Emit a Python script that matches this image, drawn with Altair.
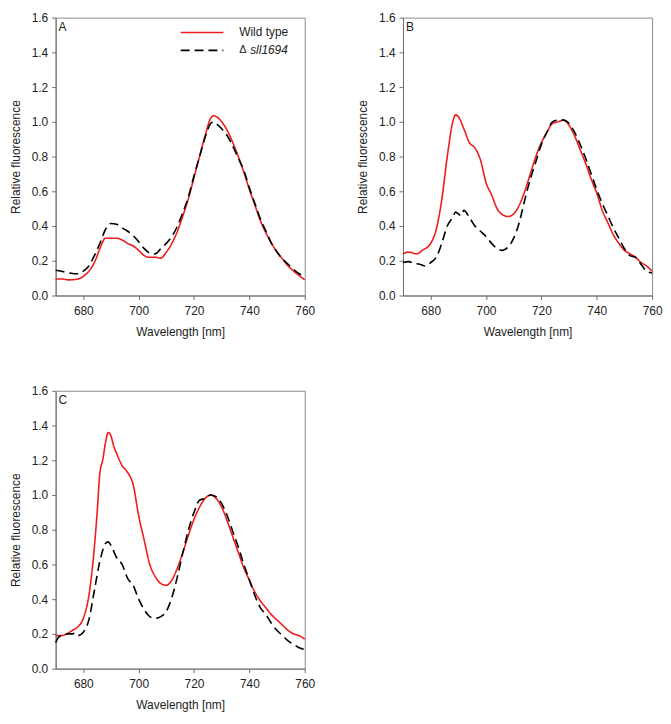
import altair as alt
import pandas as pd

# ---------------- data ----------------
# Panel A
A_wt_x = [670, 672, 675, 678, 680, 682, 684, 686, 688, 690, 692, 694, 696, 698, 700, 702, 704, 706, 708,
          710, 712, 714, 716, 718, 720, 722, 724, 726, 727, 728, 730, 732, 734, 736, 738, 740, 742, 744,
          746, 748, 750, 752, 754, 756, 758, 760]
A_wt_y = [0.095, 0.095, 0.09, 0.095, 0.11, 0.14, 0.19, 0.27, 0.33, 0.33, 0.33, 0.32, 0.30, 0.285, 0.26,
          0.23, 0.22, 0.22, 0.215, 0.25, 0.30, 0.37, 0.46, 0.56, 0.68, 0.80, 0.92, 1.02, 1.035, 1.03, 1.00,
          0.95, 0.88, 0.80, 0.71, 0.61, 0.52, 0.43, 0.36, 0.30, 0.25, 0.21, 0.17, 0.14, 0.115, 0.09]
A_ko_x = [670, 672, 675, 678, 680, 682, 684, 686, 688, 690, 692, 694, 696, 698, 700, 702, 704, 706, 708,
          710, 712, 714, 716, 718, 720, 722, 724, 726, 727, 728, 730, 732, 734, 736, 738, 740, 742, 744,
          746, 748, 750, 752, 754, 756, 758, 760]
A_ko_y = [0.145, 0.14, 0.13, 0.125, 0.14, 0.17, 0.23, 0.30, 0.38, 0.415, 0.41, 0.39, 0.37, 0.345, 0.31,
          0.27, 0.245, 0.24, 0.27, 0.30, 0.34, 0.40, 0.48, 0.57, 0.69, 0.80, 0.91, 0.99, 1.00, 0.99, 0.96,
          0.92, 0.86, 0.79, 0.72, 0.62, 0.53, 0.44, 0.37, 0.30, 0.25, 0.21, 0.18, 0.15, 0.125, 0.11]

# Panel B
B_wt_x = [670, 672, 675, 677, 680, 682, 684, 686, 688, 689, 690, 692, 694, 696, 698, 700, 702, 704, 706,
          708, 710, 712, 714, 716, 718, 720, 722, 724, 726, 728, 730, 732, 734, 736, 738, 740, 742, 744,
          746, 748, 750, 752, 754, 756, 758, 760]
B_wt_y = [0.24, 0.25, 0.24, 0.26, 0.30, 0.38, 0.55, 0.80, 1.00, 1.04, 1.03, 0.96, 0.88, 0.85, 0.78, 0.65,
          0.58, 0.50, 0.465, 0.455, 0.47, 0.52, 0.60, 0.70, 0.80, 0.88, 0.94, 0.99, 1.00, 1.01, 0.98, 0.92,
          0.84, 0.76, 0.67, 0.59, 0.49, 0.42, 0.35, 0.30, 0.26, 0.24, 0.22, 0.19, 0.17, 0.14]
B_ko_x = [670, 672, 674, 676, 678, 680, 682, 684, 686, 688, 689, 690, 691, 692, 694, 696, 698, 700, 702,
          704, 706, 708, 710, 712, 714, 716, 718, 720, 722, 724, 726, 728, 730, 732, 734, 736, 738, 740,
          742, 744, 746, 748, 750, 752, 754, 756, 758, 760]
B_ko_y = [0.19, 0.195, 0.185, 0.18, 0.17, 0.19, 0.22, 0.30, 0.40, 0.45, 0.48, 0.47, 0.46, 0.49, 0.45, 0.40,
          0.37, 0.34, 0.30, 0.27, 0.26, 0.28, 0.33, 0.42, 0.55, 0.67, 0.77, 0.87, 0.94, 1.00, 1.01, 1.01,
          0.99, 0.94, 0.87, 0.79, 0.70, 0.61, 0.53, 0.46, 0.39, 0.33, 0.27, 0.23, 0.22, 0.18, 0.14, 0.13]

# Panel C
C_wt_x = [670, 672, 674, 676, 678, 680, 682, 684, 685, 686, 687, 688, 689, 690, 691, 692, 694, 696, 698,
          700, 702, 704, 706, 708, 710, 712, 714, 716, 718, 720, 722, 724, 726, 728, 730, 732, 734, 736,
          738, 740, 742, 744, 746, 748, 750, 752, 754, 756, 758, 760]
C_wt_y = [0.19, 0.19, 0.20, 0.22, 0.24, 0.29, 0.42, 0.70, 0.90, 1.13, 1.20, 1.30, 1.36, 1.34, 1.28, 1.24,
          1.17, 1.13, 1.06, 0.88, 0.74, 0.60, 0.53, 0.49, 0.48, 0.51, 0.58, 0.67, 0.77, 0.86, 0.93, 0.98,
          1.00, 0.98, 0.93, 0.85, 0.76, 0.67, 0.58, 0.51, 0.44, 0.39, 0.35, 0.31, 0.28, 0.25, 0.22, 0.20,
          0.19, 0.17]
C_ko_x = [670, 671, 672, 674, 676, 677, 678, 680, 682, 684, 686, 688, 689, 690, 692, 694, 696, 698, 700,
          702, 704, 706, 708, 710, 712, 714, 716, 718, 720, 722, 724, 726, 728, 730, 732, 734, 736, 738,
          740, 742, 744, 746, 748, 750, 752, 754, 756, 758, 760]
C_ko_y = [0.15, 0.18, 0.19, 0.20, 0.20, 0.205, 0.19, 0.21, 0.28, 0.45, 0.62, 0.72, 0.73, 0.71, 0.64, 0.60,
          0.52, 0.48, 0.40, 0.34, 0.30, 0.29, 0.30, 0.33, 0.41, 0.53, 0.67, 0.80, 0.90, 0.97, 0.98, 1.00,
          0.99, 0.95, 0.88, 0.79, 0.70, 0.60, 0.51, 0.42, 0.35, 0.31, 0.26, 0.22, 0.19, 0.16, 0.14, 0.12,
          0.11]

series_names = ["Wild type", "\u0394 sll1694"]
x_ticks = [680, 700, 720, 740, 760]
y_ticks = [0.0, 0.2, 0.4, 0.6, 0.8, 1.0, 1.2, 1.4, 1.6]

RED = "#ee1c1c"
FONT = "Liberation Sans"
W, H = 251, 280


def panel(letter, wt_x, wt_y, ko_x, ko_y, legend=False):
    df = pd.concat([
        pd.DataFrame({"wavelength": wt_x, "value": wt_y, "series": series_names[0]}),
        pd.DataFrame({"wavelength": ko_x, "value": ko_y, "series": series_names[1]}),
    ])
    x = alt.X("wavelength:Q",
              scale=alt.Scale(domain=[670, 760], nice=False, zero=False),
              axis=alt.Axis(values=x_ticks, title="Wavelength [nm]", labelFlush=False))
    y = alt.Y("value:Q",
              scale=alt.Scale(domain=[0, 1.6], nice=False),
              axis=alt.Axis(values=y_ticks, format=".1f", title="Relative fluorescence"))
    lines = alt.Chart(df).mark_line(strokeWidth=1.6, interpolate="monotone").encode(
        x=x, y=y,
        color=alt.Color("series:N", scale=alt.Scale(domain=series_names, range=[RED, "black"]), legend=None),
        strokeDash=alt.StrokeDash("series:N", scale=alt.Scale(domain=series_names, range=[[1, 0], [9, 5]]),
                                  legend=None),
        detail="series:N",
    )
    lab = alt.Chart(pd.DataFrame({"t": [letter]})).mark_text(
        align="left", baseline="top", fontSize=12, font=FONT, color="#222").encode(
        x=alt.value(3), y=alt.value(4), text="t:N")
    layers = [lines, lab]
    if legend:
        one = pd.DataFrame({"a": [0]})
        leg_red = alt.Chart(one).mark_rule(color=RED, strokeWidth=1.6).encode(
            x=alt.value(126), x2=alt.value(169), y=alt.value(15))
        leg_blk = alt.Chart(one).mark_rule(color="black", strokeWidth=1.6, strokeDash=[9, 5]).encode(
            x=alt.value(126), x2=alt.value(169), y=alt.value(33))
        t1 = alt.Chart(pd.DataFrame({"t": ["Wild type"]})).mark_text(
            align="left", baseline="middle", fontSize=12, font=FONT, color="#222").encode(
            x=alt.value(185), y=alt.value(15), text="t:N")
        t2 = alt.Chart(pd.DataFrame({"t": ["\u0394"]})).mark_text(
            align="left", baseline="middle", fontSize=11, font=FONT, color="#222").encode(
            x=alt.value(185), y=alt.value(33), text="t:N")
        t3 = alt.Chart(pd.DataFrame({"t": ["sll1694"]})).mark_text(
            align="left", baseline="middle", fontSize=12, font=FONT, fontStyle="italic", color="#222").encode(
            x=alt.value(196), y=alt.value(33), text="t:N")
        layers += [leg_red, leg_blk, t1, t2, t3]
    return alt.layer(*layers).properties(width=W, height=H)


pA = panel("A", A_wt_x, A_wt_y, A_ko_x, A_ko_y, legend=True)
pB = panel("B", B_wt_x, B_wt_y, B_ko_x, B_ko_y)
pC = panel("C", C_wt_x, C_wt_y, C_ko_x, C_ko_y)

chart = alt.concat(pA, pB, pC, columns=2, spacing=alt.RowColnumber(row=96, column=99), bounds="flush").properties(
    padding={"left": 0, "top": 0, "right": 0, "bottom": 0},
    background="white",
).configure_view(
    stroke="#8a8a8a", strokeWidth=1
).configure_axis(
    labelFont=FONT, titleFont=FONT, labelFontSize=12, titleFontSize=12,
    labelColor="#222", titleColor="#222", titleFontWeight="normal",
    domainColor="#6e6e6e", tickColor="#6e6e6e", tickSize=4, labelPadding=5,
    grid=False,
).configure_axisX(
    titlePadding=10, labelPadding=6
).configure_axisY(
    titlePadding=9, labelPadding=4
)

chart.save("out.html", embed_options={"renderer": "svg", "actions": False})
